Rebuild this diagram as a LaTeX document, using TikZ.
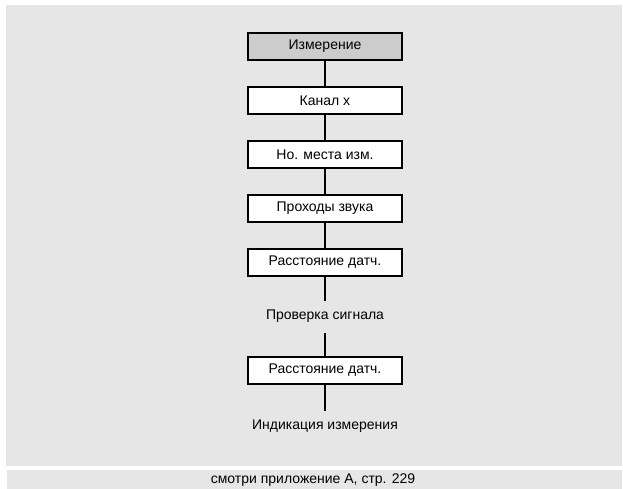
\documentclass[tikz,border=0pt]{standalone}
\usepackage{fontspec}
\setmainfont{Liberation Sans}
\definecolor{panelgray}{RGB}{230,230,230}
\definecolor{headgray}{RGB}{204,204,204}

\begin{document}
\begin{tikzpicture}[
    x=1pt, y=1pt,
    node distance=54pt,
    block/.style={rectangle, draw=black, fill=white, line width=1.6pt,
        minimum width=154pt, minimum height=27pt, inner sep=0pt,
        font=\fontsize{14}{16}\selectfont},
    note/.style={inner sep=0pt, font=\fontsize{14}{16}\selectfont},
    link/.style={line width=1.8pt, black}
]
    \useasboundingbox (0,0) rectangle (623,489);
    \fill[panelgray] (6,23) rectangle (622,484);
    \fill[panelgray] (7,0) rectangle (622,19);

    \node[block, fill=headgray] (meas) at (325,442.5) {Измерение};
    \node[block, below of=meas] (chan) {Канал x};
    \node[block, below of=chan] (place) {Но. места изм.};
    \node[block, below of=place] (paths) {Проходы звука};
    \node[block, below of=paths] (dist) {Расстояние датч.};
    \node[note, below of=dist] (check) {Проверка сигнала};
    \node[block, below of=check] (dist2) {Расстояние датч.};
    \node[note, below of=dist2, yshift=-1.5pt] (show) {Индикация измерения};
    \node[note] (ref) at (313,9) {смотри приложение А, стр. 229};

    \draw[link] (meas) -- (chan);
    \draw[link] (chan) -- (place);
    \draw[link] (place) -- (paths);
    \draw[link] (paths) -- (dist);
    \draw[link] (dist.south) -- ([yshift=9pt]check.north);
    \draw[link] ([yshift=-10pt]check.south) -- (dist2.north);
    \draw[link] (dist2.south) -- ([yshift=9pt]show.north);
\end{tikzpicture}
\end{document}
